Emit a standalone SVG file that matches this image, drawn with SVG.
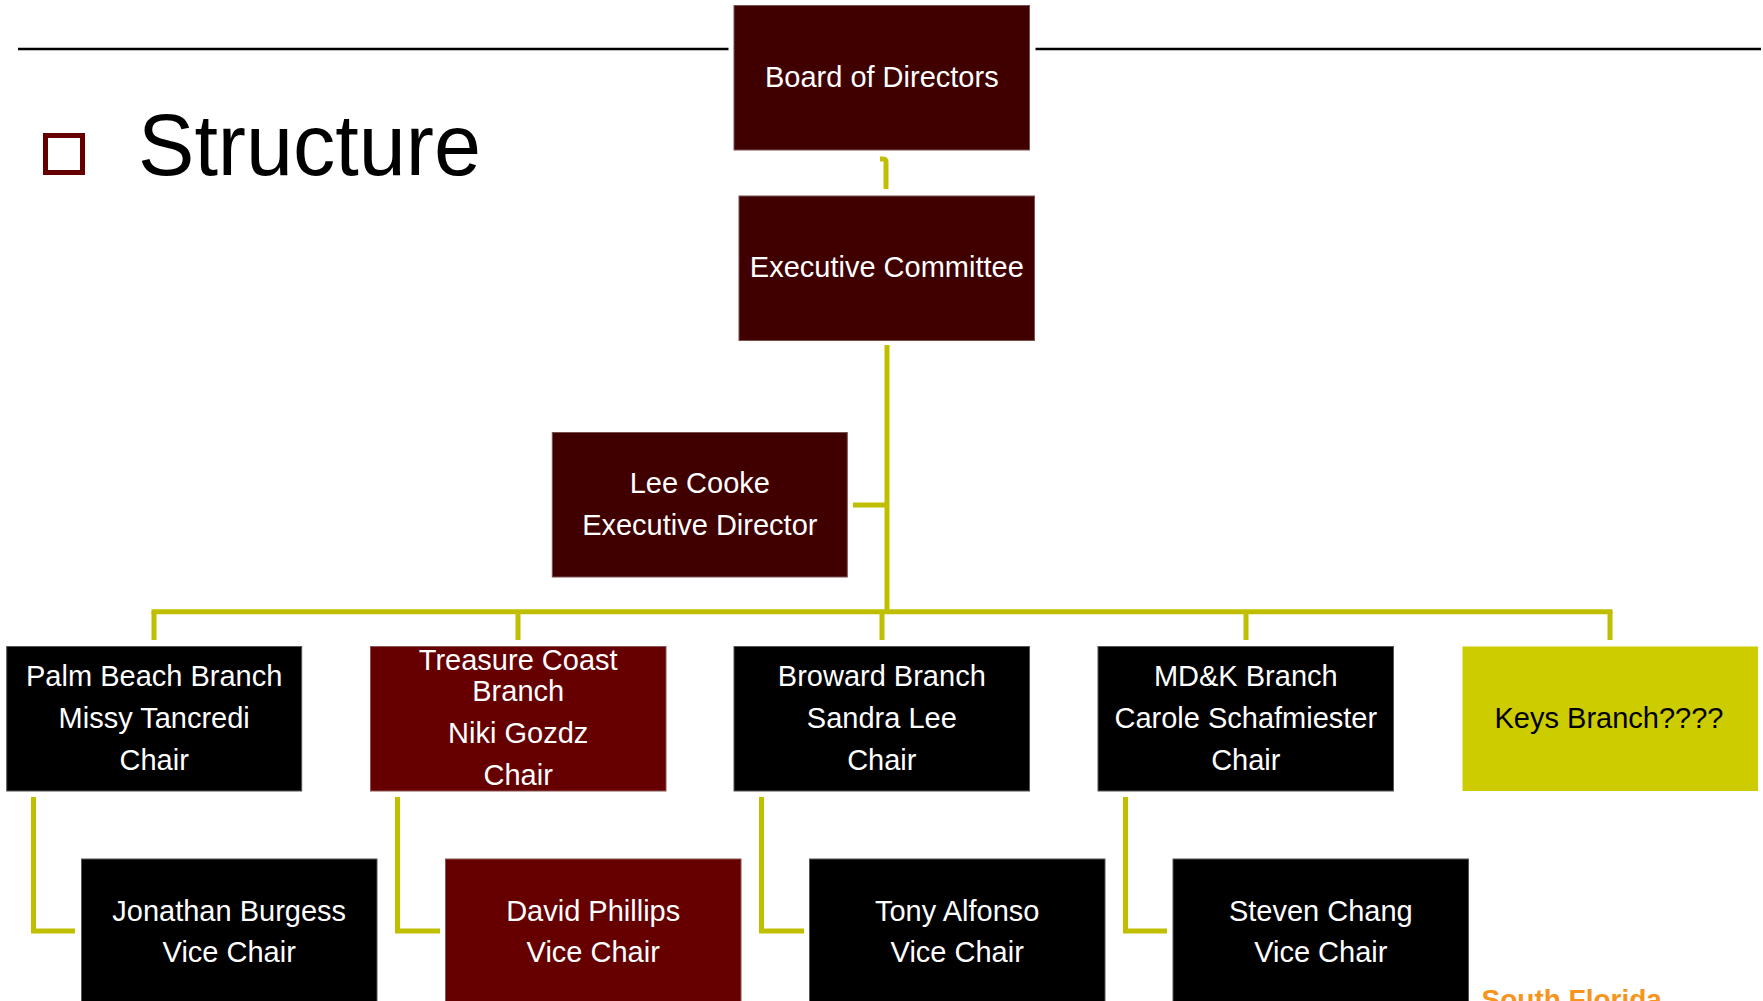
<svg xmlns="http://www.w3.org/2000/svg" width="1763" height="1001" viewBox="0 0 1763 1001">
<style>
.t{font-family:"Liberation Sans",Arial,sans-serif;font-size:29px;fill:#ffffff;text-anchor:middle}
.k{fill:#000000}
.dk{fill:#400000;stroke:#7a5050;stroke-width:1}
.rd{fill:#660000;stroke:#8a5555;stroke-width:1}
.bl{fill:#000000;stroke:#555555;stroke-width:1}
.yl{fill:#CCCC00}
.c{fill:none;stroke:#BFBF00;stroke-width:5}
</style>
<rect width="1763" height="1001" fill="#ffffff"/>
<g id="header">
<line x1="18" y1="49" x2="728.5" y2="49" stroke="#000" stroke-width="2.6"/>
<line x1="1035.5" y1="49" x2="1761" y2="49" stroke="#000" stroke-width="2.6"/>
<rect x="45.5" y="135.5" width="37" height="37" fill="none" stroke="#660000" stroke-width="5"/>
<text x="138" y="175" font-family="'Liberation Sans',Arial,sans-serif" font-size="87" textLength="343" lengthAdjust="spacingAndGlyphs" fill="#000">Structure</text>
</g>
<g id="connectors">
<path class="c" d="M880 159 H883.5 Q886 159 886 162.5 V189"/>
<path class="c" d="M887 345 V614"/>
<path class="c" d="M853 505 H887"/>
<path class="c" d="M151.5 611.7 H1612.5"/>
<path class="c" d="M154 611.7 V640"/>
<path class="c" d="M518 611.7 V640"/>
<path class="c" d="M882 611.7 V640"/>
<path class="c" d="M1246 611.7 V640"/>
<path class="c" d="M1610 611.7 V640"/>
<path class="c" d="M33.5 797 V931 H75"/>
<path class="c" d="M397.5 797 V931 H440"/>
<path class="c" d="M761.5 797 V931 H804"/>
<path class="c" d="M1125.5 797 V931 H1167"/>
</g>
<g id="board">
<rect class="dk" x="734" y="5.5" width="295.5" height="144.5"/>
<text class="t" x="881.8" y="87">Board of Directors</text>
</g>
<g id="exec">
<rect class="dk" x="739" y="196" width="295.5" height="144.5"/>
<text class="t" x="886.8" y="277">Executive Committee</text>
</g>
<g id="lee">
<rect class="dk" x="552.3" y="432.5" width="295" height="144.5"/>
<text class="t" x="699.8" y="493">Lee Cooke</text>
<text class="t" x="699.8" y="535.3">Executive Director</text>
</g>
<g id="palmbeach">
<rect class="bl" x="6.7" y="646.5" width="295" height="144.5"/>
<text class="t" x="154.2" y="686">Palm Beach Branch</text>
<text class="t" x="154.2" y="728">Missy Tancredi</text>
<text class="t" x="154.2" y="770">Chair</text>
</g>
<g id="treasure">
<rect class="rd" x="370.5" y="646.5" width="295.5" height="144.5"/>
<text class="t" x="518.2" y="670">Treasure Coast</text>
<text class="t" x="518.2" y="701">Branch</text>
<text class="t" x="518.2" y="743">Niki Gozdz</text>
<text class="t" x="518.2" y="785">Chair</text>
</g>
<g id="broward">
<rect class="bl" x="734" y="646.5" width="295.5" height="144.5"/>
<text class="t" x="881.8" y="686">Broward Branch</text>
<text class="t" x="881.8" y="728">Sandra Lee</text>
<text class="t" x="881.8" y="770">Chair</text>
</g>
<g id="mdk">
<rect class="bl" x="1098" y="646.5" width="295.5" height="144.5"/>
<text class="t" x="1245.8" y="686">MD&amp;K Branch</text>
<text class="t" x="1245.8" y="728">Carole Schafmiester</text>
<text class="t" x="1245.8" y="770">Chair</text>
</g>
<g id="keys">
<rect class="yl" x="1462.5" y="646.5" width="295.5" height="144.5"/>
<text class="t k" x="1609" y="727.5">Keys Branch????</text>
</g>
<g id="burgess">
<rect class="bl" x="81.5" y="859" width="295.5" height="150"/>
<text class="t" x="229.2" y="920.5">Jonathan Burgess</text>
<text class="t" x="229.2" y="962">Vice Chair</text>
</g>
<g id="phillips">
<rect class="rd" x="445.5" y="859" width="295.5" height="150"/>
<text class="t" x="593.2" y="920.5">David Phillips</text>
<text class="t" x="593.2" y="962">Vice Chair</text>
</g>
<g id="alfonso">
<rect class="bl" x="809.5" y="859" width="295.5" height="150"/>
<text class="t" x="957.2" y="920.5">Tony Alfonso</text>
<text class="t" x="957.2" y="962">Vice Chair</text>
</g>
<g id="chang">
<rect class="bl" x="1173" y="859" width="295.5" height="150"/>
<text class="t" x="1320.8" y="920.5">Steven Chang</text>
<text class="t" x="1320.8" y="962">Vice Chair</text>
</g>
<g id="footer">
<text x="1481.5" y="1008.5" font-family="'Liberation Sans',Arial,sans-serif" font-size="28" font-weight="bold" fill="#F7941E">South Florida</text>
</g>
</svg>
